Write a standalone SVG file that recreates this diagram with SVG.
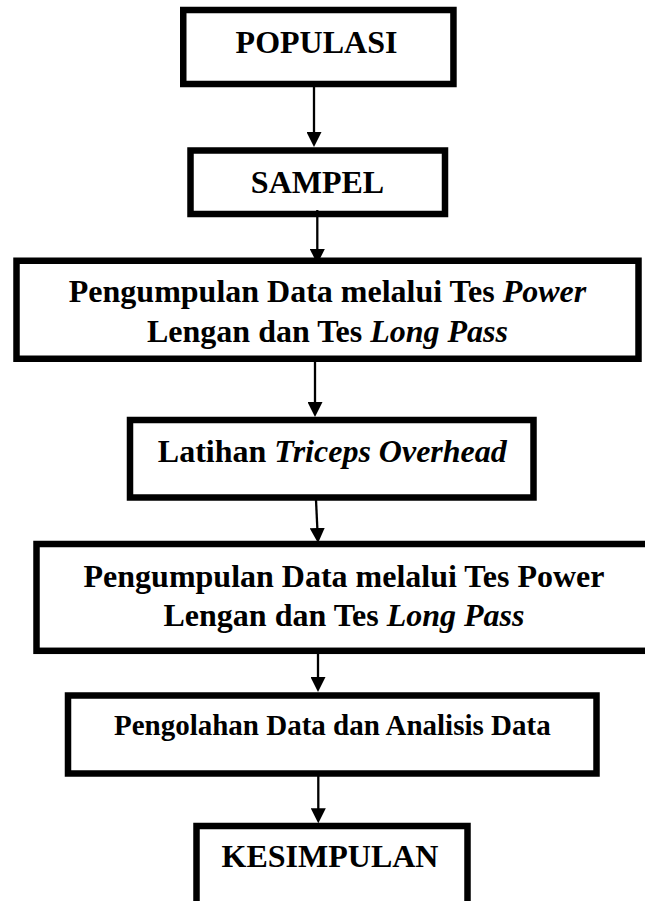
<svg xmlns="http://www.w3.org/2000/svg" width="645" height="901" viewBox="0 0 645 901">
  <defs>
    <marker id="head" viewBox="0 0 15 15" refX="10" refY="7.5" markerWidth="15" markerHeight="15" markerUnits="userSpaceOnUse" orient="auto">
      <path d="M0,0 L15,7.5 L0,15 z" fill="#000"/>
    </marker>
    <style>
      .box { fill: #fff; stroke: #000; stroke-width: 6.5; }
      .lbl { font-family: "Liberation Serif", "Times New Roman", serif; font-weight: bold; font-size: 32px; fill: #000; text-anchor: middle; }
      .sm { font-size: 29px; }
      .it { font-style: italic; }
      .conn line { stroke: #000; stroke-width: 2.3; marker-end: url(#head); }
    </style>
  </defs>
  <rect width="645" height="901" fill="#fff"/>

  <g id="populasi">
    <rect class="box" x="183.25" y="10" width="270.2" height="74"/>
    <text class="lbl" x="316.5" y="53.3">POPULASI</text>
  </g>

  <g id="sampel">
    <rect class="box" x="190.5" y="150.5" width="254.5" height="63.5"/>
    <text class="lbl" x="317.5" y="193.3">SAMPEL</text>
  </g>

  <g id="pengumpulan-awal">
    <rect class="box" x="16.5" y="260.75" width="622" height="98"/>
    <text class="lbl" x="327.5" y="301.7">Pengumpulan Data melalui Tes <tspan class="it">Power</tspan></text>
    <text class="lbl" x="327.5" y="342.3">Lengan dan Tes <tspan class="it">Long Pass</tspan></text>
  </g>

  <g id="latihan">
    <rect class="box" x="130" y="420" width="403.5" height="77.5"/>
    <text class="lbl" x="332.3" y="461.7">Latihan <tspan class="it">Triceps Overhead</tspan></text>
  </g>

  <g id="pengumpulan-akhir">
    <rect class="box" x="36.5" y="544" width="615" height="106.8"/>
    <text class="lbl" x="344" y="587">Pengumpulan Data melalui Tes Power</text>
    <text class="lbl" x="344" y="625.5">Lengan dan Tes <tspan class="it">Long Pass</tspan></text>
  </g>

  <g id="pengolahan">
    <rect class="box" x="68" y="695.5" width="528.5" height="78"/>
    <text class="lbl sm" x="332.3" y="735">Pengolahan Data dan Analisis Data</text>
  </g>

  <g id="kesimpulan">
    <rect class="box" x="196.5" y="826" width="271" height="100"/>
    <text class="lbl" x="330" y="867.3">KESIMPULAN</text>
  </g>

  <g id="connectors" class="conn">
    <line x1="314" y1="87" x2="314" y2="142"/>
    <line x1="317.3" y1="210" x2="317.3" y2="259"/>
    <line x1="315" y1="362" x2="315" y2="412"/>
    <line x1="316" y1="500" x2="317.8" y2="538"/>
    <line x1="318" y1="654" x2="318" y2="687"/>
    <line x1="318.3" y1="776" x2="318.3" y2="818.3"/>
  </g>
</svg>
